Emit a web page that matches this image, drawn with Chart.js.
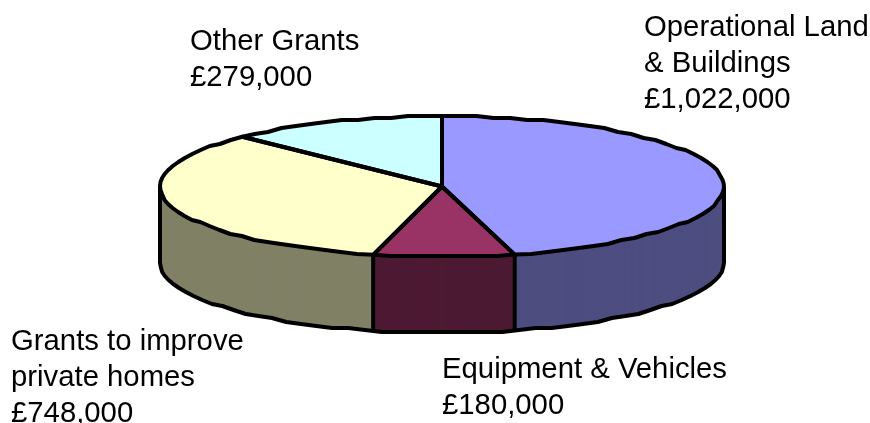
<!DOCTYPE html>
<html>
<head>
<meta charset="utf-8">
<style>
  html, body { margin: 0; padding: 0; background: #fff; overflow: hidden; }
  canvas { display: block; }
</style>
<script src="https://cdn.jsdelivr.net/npm/chart.js@4/dist/chart.umd.min.js"></script>
</head>
<body>
<canvas id="pieChart" width="870" height="423"></canvas>
<script>
const categories = ['Operational Land & Buildings', 'Equipment & Vehicles', 'Grants to improve private homes', 'Other Grants'];
const amounts = [1022000, 180000, 748000, 279000];
const labelLines = [
  ['Operational Land', '& Buildings'],
  ['Equipment & Vehicles'],
  ['Grants to improve', 'private homes'],
  ['Other Grants']
];
const labelAnchors = [[644, 36], [442, 378], [11, 350], [190, 50]];
const topColors = ['#9999ff', '#993366', '#ffffcc', '#ccffff'];
const sideColors = ['#4d4d80', '#4d1a33', '#808066', '#668080'];

const squash = 0.25;  // ellipse height / width of the tilted disc
const depth = 76;
const lineW = 4;
const lineGap = 36;

// rim of the disc as a coarse polyline, the original has this stepped look
function traceRim(ctx, cx, cy, r, a0, a1) {
  const step = 3.5 * Math.PI / 180;
  const n = Math.max(1, Math.round((a1 - a0) / step));
  for (let i = 0; i <= n; i++) {
    const a = a0 + (a1 - a0) * i / n;
    const y = cy + r * squash * Math.sin(a);
    ctx.lineTo(cx + r * Math.cos(a), i === 0 || i === n ? y : Math.round(y / 2) * 2);
  }
}

const tiltedPie = {
  id: 'tiltedPie',
  beforeDatasetDraw(chart) {
    const ctx = chart.ctx;
    const arcs = chart.getDatasetMeta(0).data;
    const cx = arcs[0].x, cy = arcs[0].y, r = arcs[0].outerRadius;
    const topOptions = arcs.map(a => a.options);

    const drawLayer = d => {
      ctx.save();
      ctx.translate(0, cy + d);
      ctx.scale(1, squash);
      ctx.translate(0, -cy);
      arcs.forEach(a => a.draw(ctx));
      ctx.restore();
    };

    // side wall, stacked copies of the arcs in the darker colours
    arcs.forEach((a, i) => { a.options = { ...topOptions[i], backgroundColor: sideColors[i] }; });
    for (let d = depth; d > 0; d--) drawLayer(d);
    arcs.forEach((a, i) => { a.options = topOptions[i]; });

    ctx.save();
    ctx.strokeStyle = '#000';
    ctx.lineWidth = lineW;
    ctx.lineJoin = 'round';

    // wall outline
    ctx.beginPath();
    ctx.moveTo(cx + r, cy);
    traceRim(ctx, cx, cy + depth, r, 0, Math.PI);
    ctx.lineTo(cx - r, cy);
    ctx.stroke();

    // seams on the front of the wall
    arcs.forEach(a => {
      if (a.endAngle > 0 && a.endAngle < Math.PI) {
        const x = cx + r * Math.cos(a.endAngle);
        const y = cy + r * squash * Math.sin(a.endAngle);
        ctx.beginPath();
        ctx.moveTo(x, y);
        ctx.lineTo(x, y + depth);
        ctx.stroke();
      }
    });
    ctx.restore();

    // top face
    drawLayer(0);
    ctx.save();
    ctx.strokeStyle = '#000';
    ctx.lineWidth = lineW;
    ctx.lineJoin = 'round';
    arcs.forEach(a => {
      ctx.beginPath();
      ctx.moveTo(cx, cy);
      traceRim(ctx, cx, cy, r, a.startAngle, a.endAngle);
      ctx.closePath();
      ctx.stroke();
    });
    ctx.restore();
    return false;
  },
  afterDraw(chart) {
    const ctx = chart.ctx;
    ctx.save();
    ctx.fillStyle = '#000';
    ctx.font = '29.3px "Liberation Sans"';
    ctx.textBaseline = 'alphabetic';
    labelLines.forEach((lines, i) => {
      const [x, y] = labelAnchors[i];
      const money = '£' + amounts[i].toLocaleString('en-GB');
      [...lines, money].forEach((t, n) => ctx.fillText(t, x, y + n * lineGap));
    });
    ctx.restore();
  }
};

new Chart(document.getElementById('pieChart').getContext('2d'), {
  type: 'pie',
  data: {
    labels: categories,
    datasets: [{
      data: amounts,
      backgroundColor: topColors,
      borderWidth: 0,
      radius: 282,
      clip: false
    }]
  },
  options: {
    responsive: false,
    animation: false,
    layout: { padding: { left: 14, right: 0, top: 0, bottom: 50 } },
    plugins: { legend: { display: false }, tooltip: { enabled: false } }
  },
  plugins: [tiltedPie]
});
</script>
</body>
</html>
